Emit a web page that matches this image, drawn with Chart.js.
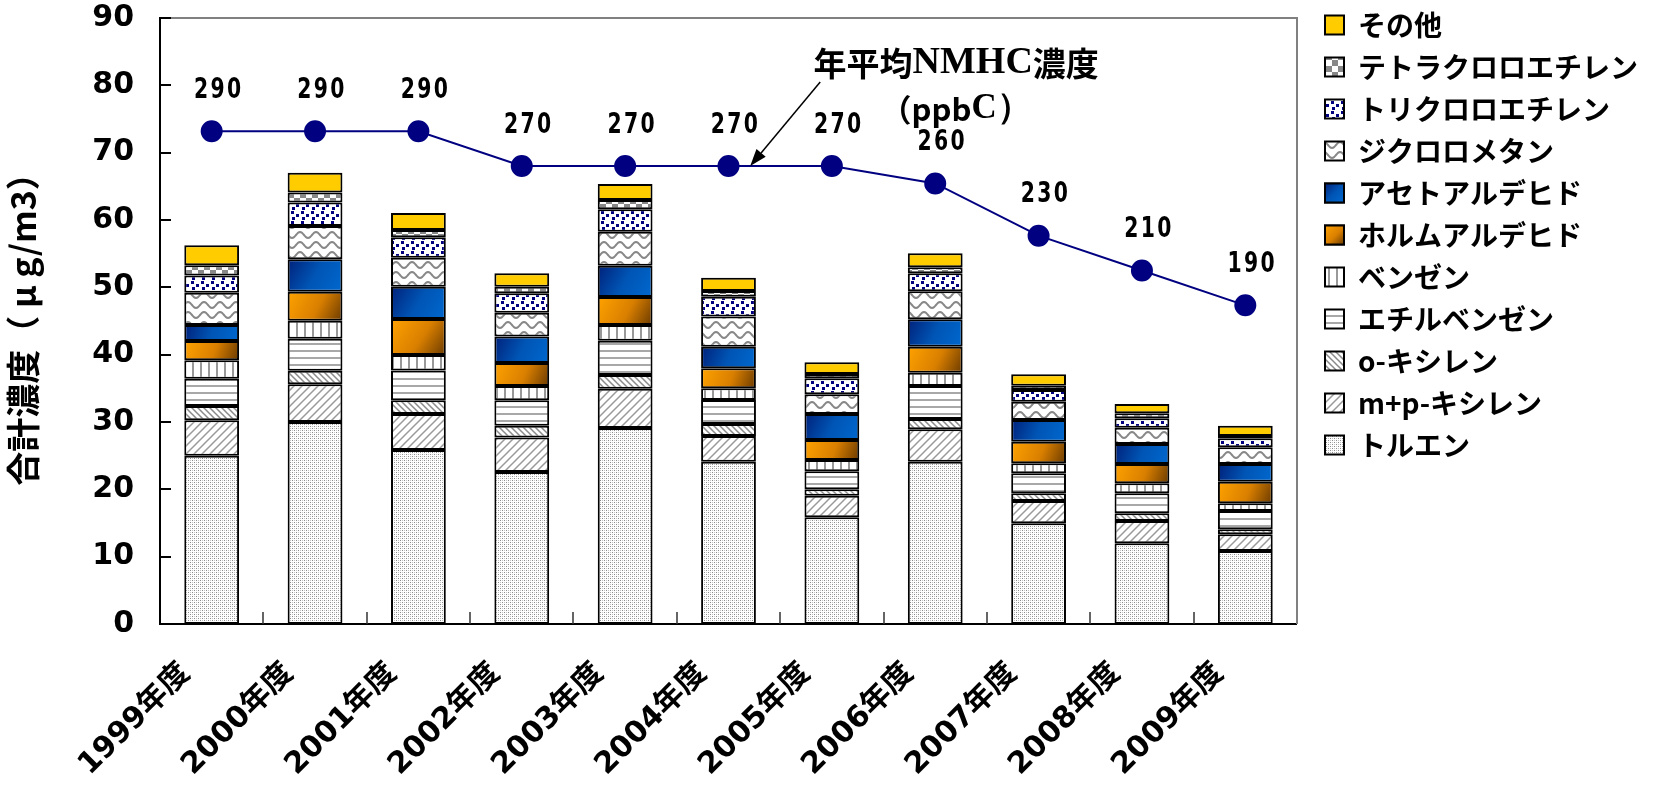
<!DOCTYPE html>
<html lang="ja">
<head>
<meta charset="utf-8">
<title>VOC 年度別合計濃度</title>
<script src="https://cdn.jsdelivr.net/npm/chart.js@4.4.1/dist/chart.umd.min.js"></script>
<style>
  html, body { margin: 0; padding: 0; background: #fff; }
  #wrap { width: 1654px; height: 793px; }
</style>
</head>
<body>
<div id="wrap"><canvas id="voc-chart" width="1654" height="793"></canvas></div>
<script>
/* -------- Daten (µg/m3, NMHC in ppbC) -------- */
const years = ["1999年度", "2000年度", "2001年度", "2002年度", "2003年度", "2004年度",
               "2005年度", "2006年度", "2007年度", "2008年度", "2009年度"];

const toluene             = [25.00, 30.00, 25.84, 22.58, 29.11, 24.11, 15.84, 24.11, 14.95, 11.98, 10.84];
const mpXylene            = [ 5.25,  5.60,  5.35,  5.10,  5.84,  3.81,  3.22,  4.80,  3.32,  3.32,  2.48];
const oXylene             = [ 2.13,  2.02,  2.03,  1.78,  2.03,  1.78,  0.94,  1.54,  1.14,  1.14,  0.74];
const ethylbenzene        = [ 4.06,  4.76,  4.41,  3.76,  5.10,  3.57,  2.68,  4.90,  2.97,  2.97,  2.72];
const benzene             = [ 2.72,  2.67,  2.32,  2.13,  2.33,  1.73,  1.68,  1.98,  1.48,  1.48,  1.14];
const formaldehyde        = [ 2.87,  4.31,  5.35,  3.41,  4.14,  2.97,  2.97,  3.86,  3.22,  2.87,  3.22];
const acetaldehyde        = [ 2.38,  4.80,  4.80,  3.92,  4.65,  3.22,  3.86,  4.06,  3.22,  2.97,  2.62];
const dichloromethane     = [ 4.80,  4.94,  4.30,  3.56,  5.07,  4.46,  2.92,  4.16,  2.72,  2.43,  2.48];
const trichloroethylene   = [ 2.53,  3.50,  3.02,  2.87,  3.32,  2.97,  2.38,  2.67,  1.73,  1.39,  1.34];
const tetrachloroethylene = [ 1.53,  1.50,  1.09,  0.99,  1.38,  0.84,  0.64,  0.89,  0.65,  0.74,  0.34];
const others              = [ 2.97,  2.93,  2.53,  1.98,  2.38,  1.98,  1.73,  2.08,  1.68,  1.38,  1.54];

const nmhc = [290, 290, 290, 270, 270, 270, 270, 260, 230, 210, 190];

const yTicks = { min: 0, max: 90, step: 10 };
const nmhcAxis = { min: 7, max: 355 };

const BAR_PCT = 0.53;

/* -------- Muster & Verläufe -------- */
function tile(w, h, draw) {
  const c = document.createElement("canvas");
  c.width = w; c.height = h;
  const g = c.getContext("2d");
  g.fillStyle = "#fff";
  g.fillRect(0, 0, w, h);
  draw(g);
  return g.createPattern(c, "repeat");
}

const patterns = {
  dots: tile(4, 4, g => {
    g.fillStyle = "#8c8c8c";
    g.fillRect(0, 0, 1, 1); g.fillRect(2, 2, 1, 1);
    g.fillStyle = "#c4c4c4";
    g.fillRect(2, 0, 1, 1); g.fillRect(0, 2, 1, 1);
  }),
  slash: tile(8, 8, g => {
    g.strokeStyle = "#9a9a9a"; g.lineWidth = 1.5;
    g.beginPath();
    g.moveTo(0, 8); g.lineTo(8, 0);
    g.moveTo(-1, 1); g.lineTo(1, -1);
    g.moveTo(7, 9); g.lineTo(9, 7);
    g.stroke();
  }),
  backslash: tile(6, 6, g => {
    g.strokeStyle = "#8a8a8a"; g.lineWidth = 1.5;
    g.beginPath();
    g.moveTo(0, 0); g.lineTo(6, 6);
    g.moveTo(5, -1); g.lineTo(7, 1);
    g.moveTo(-1, 5); g.lineTo(1, 7);
    g.stroke();
  }),
  hlines: tile(4, 7, g => { g.fillStyle = "#a8a8a8"; g.fillRect(0, 0, 4, 2); }),
  vlines: tile(8, 4, g => { g.fillStyle = "#999"; g.fillRect(0, 0, 2, 4); }),
  wave: tile(16, 10, g => {
    g.strokeStyle = "#888"; g.lineWidth = 2;
    g.beginPath();
    for (let x = -1; x <= 17; x++) {
      const y = 5 + 3 * Math.sin((x / 16) * Math.PI * 2);
      x === -1 ? g.moveTo(x, y) : g.lineTo(x, y);
    }
    g.stroke();
  }),
  navyDots: tile(10, 10, g => {
    g.fillStyle = "#000080";
    g.fillRect(1, 1, 3, 3); g.fillRect(6, 4, 3, 3); g.fillRect(2, 7, 3, 3);
  }),
  checker: tile(12, 12, g => {
    g.fillStyle = "#888";
    g.fillRect(0, 0, 6, 6); g.fillRect(6, 6, 6, 6);
  })
};

const orangeStops = [[0, "#ffa200"], [0.55, "#d97f00"], [1, "#6a3a00"]];
const blueStops   = [[0, "#00217a"], [0.5, "#0055b5"], [1, "#0068cf"]];

function makeGradient(ctx, x0, y0, x1, y1, stops) {
  const g = ctx.createLinearGradient(x0, y0, x1, y1);
  stops.forEach(([p, col]) => g.addColorStop(p, col));
  return g;
}

// Verlauf pro Balkensegment, diagonal von links oben nach rechts unten
function gradientFill(stops) {
  return c => {
    const chart = c.chart;
    const x = chart.scales.x, y = chart.scales.y;
    if (c.dataIndex === undefined || !x || !y || !chart.chartArea) return stops[1][1];
    const ds = chart.data.datasets;
    let base = 0;
    for (let d = 0; d < c.datasetIndex; d++) {
      if (ds[d].type !== "line") base += ds[d].data[c.dataIndex];
    }
    const cx = x.getPixelForValue(c.dataIndex);
    const half = (x.width / years.length) * BAR_PCT / 2;
    const top = y.getPixelForValue(base + ds[c.datasetIndex].data[c.dataIndex]);
    const bottom = y.getPixelForValue(base);
    return makeGradient(chart.ctx, cx - half, top, cx + half, bottom, stops);
  };
}

const compounds = [
  { label: "トルエン",             data: toluene,             fill: patterns.dots },
  { label: "m+p-キシレン",         data: mpXylene,            fill: patterns.slash },
  { label: "o-キシレン",           data: oXylene,             fill: patterns.backslash },
  { label: "エチルベンゼン",       data: ethylbenzene,        fill: patterns.hlines },
  { label: "ベンゼン",             data: benzene,             fill: patterns.vlines },
  { label: "ホルムアルデヒド",     data: formaldehyde,        fill: gradientFill(orangeStops), stops: orangeStops },
  { label: "アセトアルデヒド",     data: acetaldehyde,        fill: gradientFill(blueStops), stops: blueStops },
  { label: "ジクロロメタン",       data: dichloromethane,     fill: patterns.wave },
  { label: "トリクロロエチレン",   data: trichloroethylene,   fill: patterns.navyDots },
  { label: "テトラクロロエチレン", data: tetrachloroethylene, fill: patterns.checker },
  { label: "その他",               data: others,              fill: "#ffcc00" }
];

/* -------- Plugins -------- */
// Rahmen oben/rechts und Teilstriche nach innen
const frameTicks = {
  id: "frameTicks",
  afterDatasetsDraw(chart) {
    const { ctx, chartArea: a, scales: { x, y } } = chart;
    ctx.save();
    ctx.strokeStyle = "#808080";
    ctx.lineWidth = 2;
    ctx.beginPath();
    ctx.moveTo(a.left, a.top); ctx.lineTo(a.right, a.top); ctx.lineTo(a.right, a.bottom);
    ctx.stroke();

    ctx.strokeStyle = "#000";
    ctx.beginPath();
    y.ticks.forEach(t => {
      const py = Math.round(y.getPixelForValue(t.value));
      ctx.moveTo(a.left, py); ctx.lineTo(a.left + 11, py);
    });
    ctx.stroke();

    ctx.lineWidth = 1.5;
    ctx.strokeStyle = "#333";
    ctx.beginPath();
    for (let i = 1; i < years.length; i++) {
      const px = Math.round((x.getPixelForValue(i - 1) + x.getPixelForValue(i)) / 2);
      ctx.moveTo(px, a.bottom); ctx.lineTo(px, a.bottom - 12);
    }
    ctx.stroke();
    ctx.restore();
  }
};

// NMHC-Werte über den Punkten (schmal gesetzt)
const nmhcLabels = {
  id: "nmhcLabels",
  afterDatasetsDraw(chart) {
    const idx = chart.data.datasets.findIndex(d => d.type === "line");
    const meta = chart.getDatasetMeta(idx);
    const { ctx } = chart;
    ctx.save();
    ctx.font = "bold 29px 'DejaVu Sans Condensed', 'DejaVu Sans', sans-serif";
    ctx.letterSpacing = "3px";
    ctx.fillStyle = "#000";
    ctx.textAlign = "center";
    ctx.textBaseline = "middle";
    meta.data.forEach((pt, i) => {
      ctx.save();
      ctx.translate(pt.x + 7, pt.y - 41);
      ctx.scale(0.78, 1);
      ctx.fillText(String(nmhc[i]), 0, 0);
      ctx.restore();
    });
    ctx.restore();
  }
};

// Beschriftung der Linie mit Pfeil
const nmhcNote = {
  id: "nmhcNote",
  afterDatasetsDraw(chart) {
    const { ctx, scales: { x, y2 } } = chart;
    const step = x.getPixelForValue(1) - x.getPixelForValue(0);
    const tipX = x.getPixelForValue(5) + 0.21 * step;
    const tipY = y2.getPixelForValue(nmhc[5]);
    const sx = tipX + 70, sy = tipY - 84;

    ctx.save();
    ctx.strokeStyle = "#000";
    ctx.fillStyle = "#000";
    ctx.lineWidth = 1.5;
    const ang = Math.atan2(tipY - sy, tipX - sx);
    const headLen = 17, headW = 6;
    const bx = tipX - headLen * Math.cos(ang), by = tipY - headLen * Math.sin(ang);
    ctx.beginPath(); ctx.moveTo(sx, sy); ctx.lineTo(bx, by); ctx.stroke();
    ctx.beginPath();
    ctx.moveTo(tipX, tipY);
    ctx.lineTo(bx + headW * Math.sin(ang), by - headW * Math.cos(ang));
    ctx.lineTo(bx - headW * Math.sin(ang), by + headW * Math.cos(ang));
    ctx.closePath(); ctx.fill();

    const cx = tipX + 206;
    const sans = "bold 33px 'Noto Sans CJK JP', sans-serif";
    const serif = "bold 38px 'Liberation Serif', serif";
    drawRuns(ctx, [["年平均", sans], ["NMHC", serif], ["濃度", sans]], cx, tipY - 103);
    drawRuns(ctx, [["（ppb", "bold 31px 'Noto Sans CJK JP', sans-serif"], ["C）", "bold 35px 'Liberation Serif', serif"]], cx, tipY - 57);
    ctx.restore();
  }
};

function drawRuns(ctx, runs, cx, cy) {
  ctx.textBaseline = "middle";
  ctx.textAlign = "left";
  const widths = runs.map(([t, f]) => { ctx.font = f; return ctx.measureText(t).width; });
  let px = cx - widths.reduce((s, w) => s + w, 0) / 2;
  runs.forEach(([t, f], i) => { ctx.font = f; ctx.fillText(t, px, cy); px += widths[i]; });
}

// Legende etwas nach oben ziehen
const legendShift = {
  id: "legendShift",
  afterLayout(chart) {
    chart.legend.top -= 21;
    chart.legend.bottom -= 21;
  }
};

// Verlaufskästchen der Legende
const legendGradients = {
  id: "legendGradients",
  afterDraw(chart) {
    const lg = chart.legend;
    const o = lg.options.labels;
    const fs = o.font.size, pad = o.padding, bw = o.boxWidth, bh = o.boxHeight;
    const ih = Math.max(fs, bh);
    const { ctx } = chart;
    ctx.save();
    lg.legendItems.forEach((item, k) => {
      const stops = compounds[item.datasetIndex].stops;
      if (!stops) return;
      const x0 = lg.left + pad;
      const y0 = lg.top + pad + k * (ih + pad) + (ih - bh) / 2;
      ctx.fillStyle = makeGradient(ctx, x0, y0, x0 + bw, y0 + bh, stops);
      ctx.fillRect(x0, y0, bw, bh);
      ctx.lineWidth = 2;
      ctx.strokeStyle = "#000";
      ctx.strokeRect(x0, y0, bw, bh);
    });
    ctx.restore();
  }
};

/* -------- Chart -------- */
const datasets = compounds.map(c => ({
  type: "bar",
  label: c.label,
  data: c.data,
  backgroundColor: c.fill,
  borderColor: "#000",
  borderWidth: 2,
  borderSkipped: false,
  barPercentage: BAR_PCT,
  categoryPercentage: 1,
  order: 1
}));

datasets.push({
  type: "line",
  label: "年平均NMHC濃度",
  data: nmhc,
  yAxisID: "y2",
  borderColor: "#000080",
  borderWidth: 2,
  pointRadius: 10,
  pointBackgroundColor: "#000080",
  pointBorderColor: "#000080",
  tension: 0,
  clip: false,
  order: 0
});

new Chart(document.getElementById("voc-chart").getContext("2d"), {
  type: "bar",
  data: { labels: years, datasets },
  options: {
    responsive: false,
    animation: false,
    layout: { padding: { top: 18, right: 6, left: 0, bottom: 0 } },
    scales: {
      x: {
        stacked: true,
        grid: { display: false, drawTicks: false },
        border: { display: true, color: "#000", width: 2 },
        ticks: {
          color: "#000",
          font: { family: "'DejaVu Sans', 'Noto Sans CJK JP', sans-serif", size: 30, weight: "bold" },
          minRotation: 45, maxRotation: 45, autoSkip: false,
          padding: 32, labelOffset: -26
        },
        afterFit: s => { s.height = 169; s.paddingLeft = 0; s.paddingRight = 0; }
      },
      y: {
        stacked: true,
        min: yTicks.min, max: yTicks.max,
        grid: { display: false, drawTicks: false },
        border: { display: true, color: "#000", width: 2 },
        ticks: {
          stepSize: yTicks.step,
          color: "#000",
          padding: 26,
          font: { family: "'DejaVu Sans', sans-serif", size: 30, weight: "bold" }
        },
        title: {
          display: true,
          text: "合計濃度（ μ g/m3）",
          color: "#000",
          padding: { top: 3, bottom: 0 },
          font: { family: "'Noto Sans CJK JP', sans-serif", size: 34, weight: "bold" }
        },
        afterFit: s => { s.width = 160; s.paddingTop = 0; s.paddingBottom = 0; }
      },
      y2: {
        position: "right",
        stacked: false,
        min: nmhcAxis.min, max: nmhcAxis.max,
        grid: { display: false, drawTicks: false },
        border: { display: false },
        ticks: { display: false },
        afterFit: s => { s.width = 14; s.paddingTop = 0; s.paddingBottom = 0; }
      }
    },
    plugins: {
      tooltip: { enabled: false },
      legend: {
        position: "right",
        align: "start",
        reverse: true,
        maxWidth: 420,
        labels: {
          color: "#000",
          boxWidth: 19,
          boxHeight: 19,
          padding: 14,
          font: { family: "'Noto Sans CJK JP', sans-serif", size: 28, weight: "bold" },
          filter: item => item.datasetIndex < compounds.length
        }
      }
    }
  },
  plugins: [frameTicks, nmhcLabels, nmhcNote, legendShift, legendGradients]
});
</script>
</body>
</html>
